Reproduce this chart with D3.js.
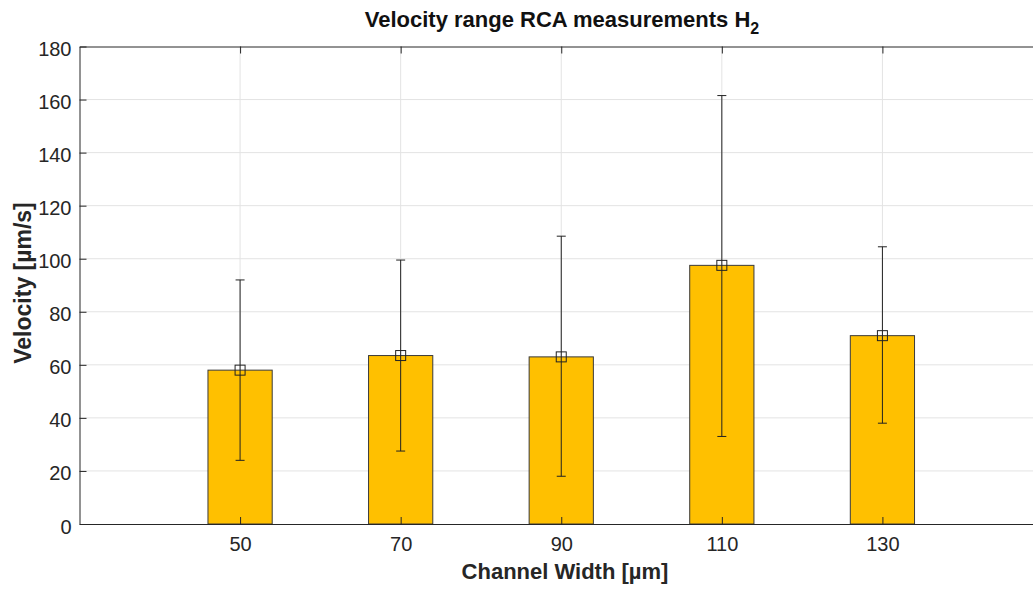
<!DOCTYPE html>
<html>
<head>
<meta charset="utf-8">
<script src="https://cdn.jsdelivr.net/npm/d3@7"></script>
<style>
  body { margin: 0; background: #fff; }
  svg { display: block; font-family: "Liberation Sans", Arial, sans-serif; }
</style>
</head>
<body>
<div id="chart"></div>
<script>
// channel widths (µm) and measured velocities (µm/s)
const widths = [50, 70, 90, 110, 130];
const meanVel = [58, 63.5, 63, 97.5, 71];
const maxVel = [92, 99.5, 108.5, 161.5, 104.5];
const minVel = [24, 27.5, 18, 33, 38];
const yTicks = [0, 20, 40, 60, 80, 100, 120, 140, 160, 180];

const W = 1033, H = 589;
const margin = { top: 46.5, left: 79.5, bottom: 65, right: -10 };
const width = W - margin.left - margin.right;
const height = H - margin.top - margin.bottom;

const svg = d3.select('#chart').append('svg')
  .attr('width', W)
  .attr('height', H);

const chart = svg.append('g')
  .attr('transform', `translate(${margin.left}, ${margin.top})`);

const xScale = d3.scaleLinear().domain([30, 150]).range([0, width]);
const yScale = d3.scaleLinear().domain([0, 180]).range([height, 0]);

const axisColor = '#262626';

// grid
chart.append('g').selectAll('line.gy')
  .data(yTicks.slice(1, -1))
  .enter().append('line')
  .attr('x1', 0).attr('x2', width)
  .attr('y1', d => yScale(d)).attr('y2', d => yScale(d))
  .style('stroke', '#e3e3e3');
chart.append('g').selectAll('line.gx')
  .data(widths)
  .enter().append('line')
  .attr('x1', d => xScale(d)).attr('x2', d => xScale(d))
  .attr('y1', 0).attr('y2', height)
  .style('stroke', '#e3e3e3');

// bars
const barW = xScale(38) - xScale(30);
chart.selectAll('rect.bar')
  .data(widths)
  .enter().append('rect')
  .attr('class', 'bar')
  .attr('x', d => xScale(d) - barW / 2)
  .attr('y', (d, i) => yScale(meanVel[i]))
  .attr('width', barW)
  .attr('height', (d, i) => height - yScale(meanVel[i]))
  .attr('fill', '#ffc000')
  .attr('stroke', '#3a3a3a')
  .attr('stroke-width', 1);

// axes
const xAxis = chart.append('g')
  .attr('class', 'axis axis-x')
  .attr('transform', `translate(0, ${height})`)
  .call(d3.axisBottom(xScale).tickValues(widths).tickSizeInner(-7).tickSizeOuter(0).tickPadding(13));
const xTop = chart.append('g')
  .call(d3.axisTop(xScale).tickValues(widths).tickSizeInner(-7).tickSizeOuter(0).tickFormat(''));
const yAxis = chart.append('g')
  .attr('class', 'axis axis-y')
  .call(d3.axisLeft(yScale).tickValues(yTicks).tickSizeInner(-7).tickSizeOuter(0).tickPadding(8));

[xAxis, xTop, yAxis].forEach(a => {
  a.select('.domain').style('stroke', axisColor);
  a.selectAll('.tick line').style('stroke', axisColor);
  a.selectAll('text').style('fill', axisColor).style('font-size', '20px');
});
yAxis.selectAll('text').attr('dy', '0.45em');

// error bars
const cap = 4.5;
const err = chart.append('g');
err.selectAll('line.stem')
  .data(widths)
  .enter().append('line')
  .attr('x1', d => xScale(d)).attr('x2', d => xScale(d))
  .attr('y1', (d, i) => yScale(minVel[i])).attr('y2', (d, i) => yScale(maxVel[i]))
  .style('stroke', '#222');
[maxVel, minVel].forEach(arr => {
  err.selectAll(null)
    .data(widths)
    .enter().append('line')
    .attr('x1', d => xScale(d) - cap).attr('x2', d => xScale(d) + cap)
    .attr('y1', (d, i) => yScale(arr[i])).attr('y2', (d, i) => yScale(arr[i]))
    .style('stroke', '#222');
});
err.selectAll('rect.marker')
  .data(widths)
  .enter().append('rect')
  .attr('x', d => xScale(d) - 5)
  .attr('y', (d, i) => yScale(meanVel[i]) - 5)
  .attr('width', 10).attr('height', 10)
  .attr('fill', 'none')
  .attr('stroke', '#222');

// labels
const title = svg.append('text')
  .attr('x', 562).attr('y', 27)
  .attr('text-anchor', 'middle')
  .style('font-size', '22px').style('font-weight', 'bold').style('fill', '#111');
title.append('tspan').text('Velocity range RCA measurements H');
title.append('tspan').attr('dy', 7).style('font-size', '16px').text('2');

svg.append('text')
  .attr('x', 565).attr('y', 579)
  .attr('text-anchor', 'middle')
  .style('font-size', '22px').style('font-weight', 'bold').style('fill', axisColor)
  .text('Channel Width [µm]');

svg.append('text')
  .attr('transform', `translate(31, ${283}) rotate(-90)`)
  .attr('text-anchor', 'middle')
  .style('font-size', '23px').style('font-weight', 'bold').style('fill', axisColor)
  .text('Velocity [µm/s]');
</script>
</body>
</html>
